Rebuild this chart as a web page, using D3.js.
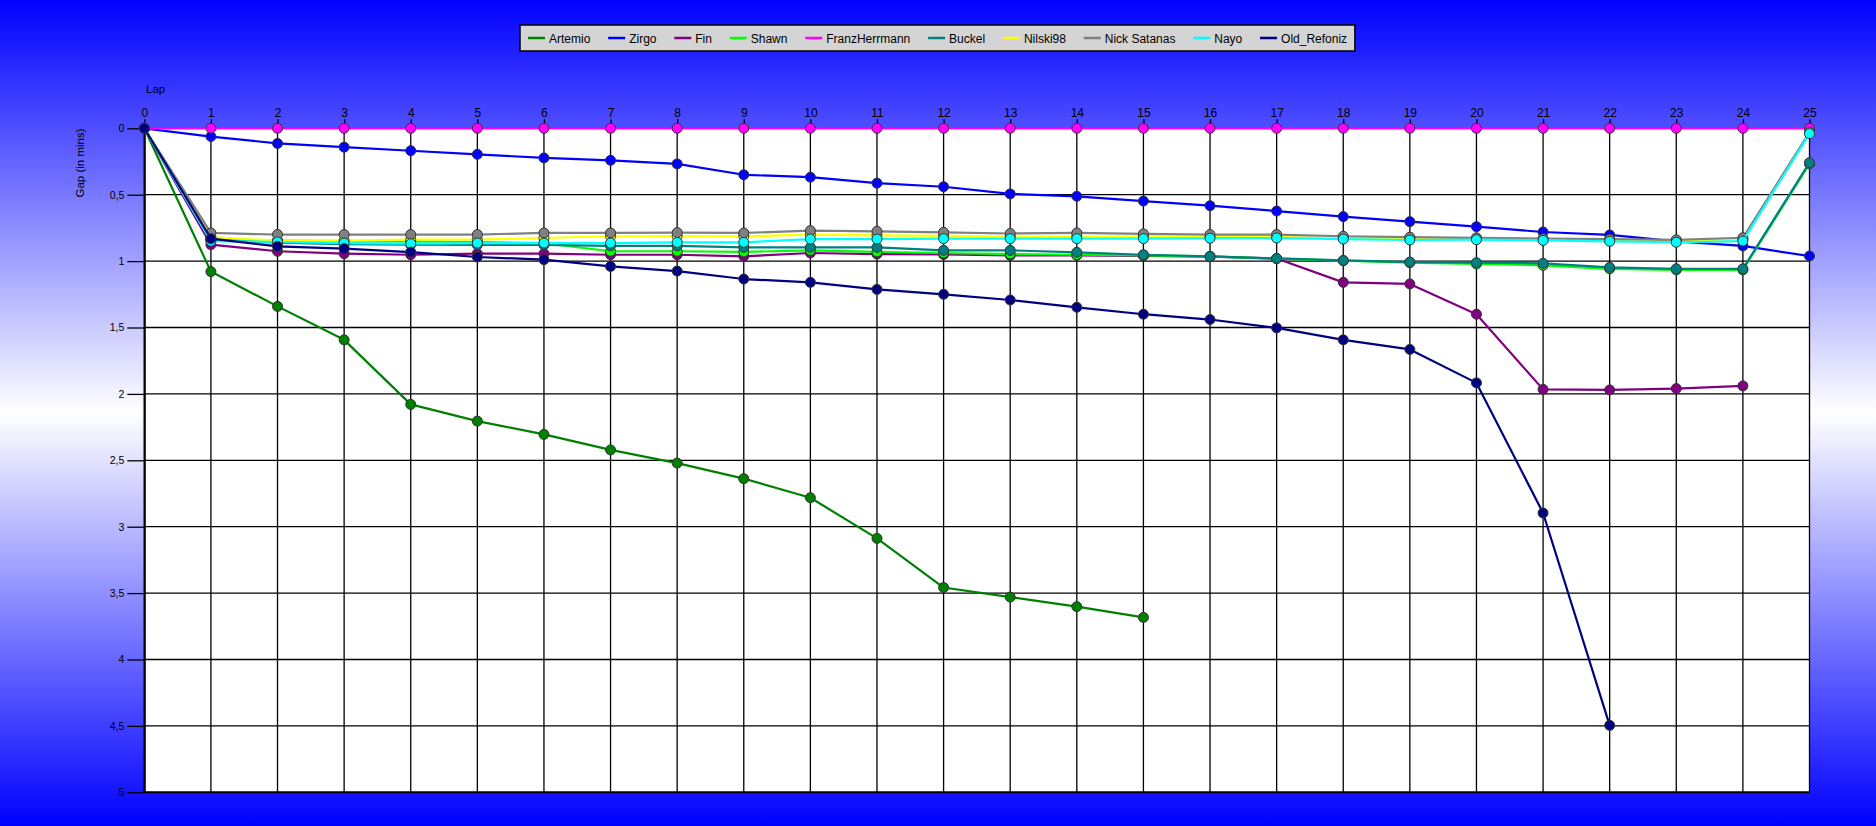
<!DOCTYPE html>
<html>
<head>
<meta charset="utf-8">
<script src="https://cdn.jsdelivr.net/npm/d3@7"></script>
<style>
  html, body { margin: 0; padding: 0; }
  body { width: 1876px; height: 826px; overflow: hidden; }
  svg { display: block; font-family: "Liberation Sans", Arial, sans-serif; }
</style>
</head>
<body>
<svg id="chart" width="1876" height="826"></svg>
<script>
// ---------- data ----------
const laps = [0,1,2,3,4,5,6,7,8,9,10,11,12,13,14,15,16,17,18,19,20,21,22,23,24,25];
const yTicks = [0,0.5,1,1.5,2,2.5,3,3.5,4,4.5,5];

const seriesNames  = ["Artemio","Zirgo","Fin","Shawn","FranzHerrmann","Buckel","Nilski98","Nick Satanas","Nayo","Old_Refoniz"];
const seriesColors = ["#008000","#0000ff","#800080","#00ff00","#ff00ff","#008080","#ffff00","#808080","#00ffff","#000080"];

const artemio = [0,1.079,1.341,1.593,2.079,2.205,2.305,2.422,2.521,2.638,2.782,3.088,3.458,3.53,3.602,3.683];
const zirgo   = [0,0.062,0.114,0.142,0.169,0.196,0.223,0.241,0.268,0.35,0.368,0.413,0.44,0.494,0.512,0.548,0.583,0.623,0.665,0.703,0.741,0.781,0.803,0.852,0.886,0.962];
const fin     = [0,0.876,0.926,0.944,0.952,0.944,0.944,0.952,0.952,0.964,0.939,0.947,0.95,0.957,0.957,0.96,0.967,0.98,1.16,1.172,1.40,1.966,1.97,1.96,1.94];
const shawn   = [0,0.835,0.846,0.85,0.852,0.856,0.865,0.926,0.926,0.931,0.919,0.931,0.939,0.947,0.952,0.957,0.965,0.982,0.997,1.012,1.022,1.032,1.058,1.066,1.066,0.268];
const franz   = [0,0,0,0,0,0,0,0,0,0,0,0,0,0,0,0,0,0,0,0,0,0,0,0,0,0];
const buckel  = [0,0.84,0.862,0.872,0.876,0.878,0.878,0.885,0.885,0.896,0.896,0.896,0.919,0.919,0.934,0.952,0.965,0.98,0.995,1.007,1.012,1.017,1.047,1.058,1.058,0.259];
const nilski  = [0,0.82,0.846,0.846,0.839,0.839,0.826,0.813,0.813,0.813,0.801,0.806,0.81,0.815,0.815,0.815,0.82,0.82,0.825,0.83,0.835,0.84,0.845,0.85,0.835,0.035];
const nick    = [0,0.788,0.80,0.80,0.80,0.80,0.788,0.788,0.785,0.788,0.771,0.776,0.783,0.792,0.788,0.795,0.80,0.80,0.813,0.82,0.825,0.83,0.835,0.84,0.824,0.03];
const nayo    = [0,0.85,0.856,0.864,0.869,0.864,0.864,0.864,0.859,0.859,0.834,0.834,0.831,0.831,0.831,0.831,0.828,0.826,0.834,0.841,0.839,0.844,0.851,0.858,0.849,0.04];
const oldRef  = [0,0.831,0.889,0.906,0.932,0.969,0.989,1.04,1.075,1.135,1.16,1.213,1.25,1.293,1.348,1.40,1.44,1.503,1.593,1.665,1.917,2.897,4.496];

const seriesValues = [artemio, zirgo, fin, shawn, franz, buckel, nilski, nick, nayo, oldRef];

// ---------- layout ----------
const W = 1876, H = 826;
const plot = { left: 144.3, right: 1809.5, top: 128.3, bottom: 792.3 };

const svg = d3.select("#chart");

// background gradient
const defs = svg.append("defs");
const grad = defs.append("linearGradient").attr("id","bg").attr("x1",0).attr("y1",0).attr("x2",0).attr("y2",1);
grad.append("stop").attr("offset","0%").attr("stop-color","#0000ff");
grad.append("stop").attr("offset","50%").attr("stop-color","#ffffff");
grad.append("stop").attr("offset","100%").attr("stop-color","#0000ff");
svg.append("rect").attr("width",W).attr("height",H).attr("fill","url(#bg)");

const x = d3.scaleLinear().domain([0,25]).range([plot.left, plot.right]);
const y = d3.scaleLinear().domain([0,5]).range([plot.top, plot.bottom]);

// plot area
svg.append("rect")
  .attr("x", plot.left).attr("y", plot.top)
  .attr("width", plot.right - plot.left).attr("height", plot.bottom - plot.top)
  .attr("fill", "#ffffff");

// grid
const grid = svg.append("g").attr("stroke","#000").attr("stroke-width",1.3);
grid.selectAll("line.v").data(laps).join("line").attr("class","v")
  .attr("x1", d => x(d)).attr("x2", d => x(d))
  .attr("y1", plot.top).attr("y2", plot.bottom);
grid.selectAll("line.h").data(yTicks).join("line").attr("class","h")
  .attr("x1", plot.left).attr("x2", plot.right)
  .attr("y1", d => y(d)).attr("y2", d => y(d))
  .attr("stroke-width", d => d === 5 ? 2 : 1.3);

// top axis
const xAxis = d3.axisTop(x).tickValues(laps).tickSizeInner(9).tickSizeOuter(0).tickPadding(2).tickFormat(d3.format("d"));
const gx = svg.append("g").attr("transform", `translate(0,${plot.top})`).call(xAxis);
gx.select(".domain").remove();
gx.selectAll(".tick line").attr("stroke","#000").attr("stroke-width",1.3);
gx.selectAll(".tick text").attr("fill","#000").attr("font-size","12px")
  .attr("font-family",'"Liberation Sans", Arial, sans-serif');

// left axis
const yAxis = d3.axisLeft(y).tickValues(yTicks).tickSizeInner(17).tickSizeOuter(0).tickPadding(3)
  .tickFormat(d => String(d).replace(".", ","));
const gy = svg.append("g").attr("transform", `translate(${plot.left},0)`).call(yAxis);
gy.select(".domain").attr("stroke","#000").attr("stroke-width",2);
gy.selectAll(".tick line").attr("stroke","#000").attr("stroke-width",1.3);
gy.selectAll(".tick text").attr("fill","#000").attr("font-size","10.5px")
  .attr("font-family",'"Liberation Sans", Arial, sans-serif');

// axis titles
svg.append("text").attr("x", 146).attr("y", 93).attr("font-size","11.5px").attr("fill","#000").text("Lap");
svg.append("text")
  .attr("transform", "translate(84,163) rotate(-90)")
  .attr("text-anchor","middle").attr("font-size","11.5px").attr("fill","#000")
  .text("Gap (in mins)");

// series
const line = d3.line().x((d,i) => x(laps[i])).y(d => y(d));
const gs = svg.append("g");
seriesValues.forEach((vals, si) => {
  const g = gs.append("g");
  g.append("path").datum(vals)
    .attr("d", line).attr("fill","none")
    .attr("stroke", seriesColors[si]).attr("stroke-width", 2.2)
    .attr("stroke-linejoin","round");
  g.selectAll("circle").data(vals).join("circle")
    .attr("cx", (d,i) => x(laps[i])).attr("cy", d => y(d))
    .attr("r", 5)
    .attr("fill", seriesColors[si])
    .attr("stroke", "#333").attr("stroke-width", 1);
});

// legend
const legend = svg.append("g");
const lgBox = legend.append("rect")
  .attr("y", 25).attr("height", 26)
  .attr("fill","#d4d4d4").attr("stroke","#000").attr("stroke-width",1.5);
let cx = 528;
seriesNames.forEach((name, i) => {
  legend.append("line")
    .attr("x1", cx).attr("x2", cx + 17)
    .attr("y1", 38).attr("y2", 38)
    .attr("stroke", seriesColors[i]).attr("stroke-width", 2.5);
  const t = legend.append("text")
    .attr("x", cx + 21).attr("y", 42.5)
    .attr("font-size","12px").attr("fill","#000")
    .text(name);
  const w = t.node().getComputedTextLength();
  cx += 21 + w + 17.8;
});
lgBox.attr("x", 520).attr("width", cx - 520 - 10);
</script>
</body>
</html>
